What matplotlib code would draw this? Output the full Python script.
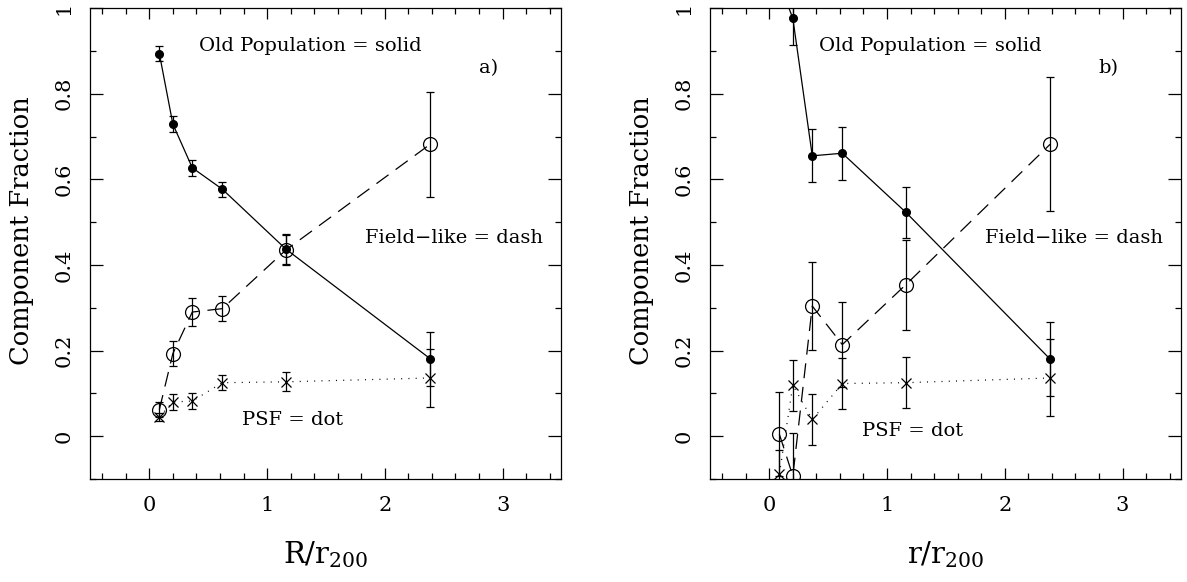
import matplotlib
matplotlib.use("Agg")
import matplotlib.pyplot as plt
from matplotlib.ticker import MultipleLocator

plt.rcParams['font.family'] = ['DejaVu Serif']

# radial bins (R/r200)
r_bins = [0.085, 0.2, 0.365, 0.62, 1.16, 2.385]

# panel a)
old_a = [0.894, 0.729, 0.627, 0.577, 0.437, 0.181]
old_a_err = [0.017, 0.018, 0.018, 0.018, 0.035, 0.063]
field_a = [0.062, 0.193, 0.290, 0.298, 0.435, 0.682]
field_a_err = [0.018, 0.030, 0.032, 0.030, 0.035, 0.123]
psf_a = [0.045, 0.080, 0.082, 0.125, 0.127, 0.136]
psf_a_err = [0.010, 0.018, 0.018, 0.018, 0.022, 0.068]

# panel b)  (first old-population point lies above the plot)
old_b = [1.06, 0.976, 0.655, 0.661, 0.523, 0.180]
old_b_err = [0.04, 0.062, 0.062, 0.062, 0.060, 0.087]
field_b = [0.005, -0.093, 0.304, 0.214, 0.354, 0.682]
field_b_err = [0.099, 0.100, 0.103, 0.100, 0.105, 0.157]
psf_b = [-0.089, 0.119, 0.039, 0.123, 0.125, 0.136]
psf_b_err = [0.056, 0.059, 0.060, 0.060, 0.060, 0.090]

fig = plt.figure(figsize=(11.87, 5.82), dpi=100)
ax1 = fig.add_axes([0.0762, 0.177, 0.3968, 0.809])
ax2 = fig.add_axes([0.5985, 0.177, 0.3968, 0.809])


def panel(ax, old, old_err, field, field_err, psf, psf_err, tag, xlabel, psf_y):
    eb = dict(fmt='none', ecolor='k', elinewidth=0.9, capsize=2.6, capthick=0.9)
    ax.errorbar(r_bins, old, yerr=old_err, **eb)
    ax.errorbar(r_bins, field, yerr=field_err, **eb)
    ax.errorbar(r_bins, psf, yerr=psf_err, **eb)

    ax.plot(r_bins, old, color='k', lw=0.9, ls='-', marker='o', ms=5.5,
            mfc='k', mec='k')
    ax.plot(r_bins, field, color='k', lw=0.9, dashes=(12, 7), marker='o',
            ms=10, mfc='none', mec='k', mew=0.9)
    ax.plot(r_bins, psf, color='k', lw=0.9, dashes=(0.8, 5), marker='x',
            ms=7, mec='k', mew=0.9)

    ax.set_xlim(-0.5, 3.5)
    ax.set_ylim(-0.1, 1.0)
    ax.xaxis.set_major_locator(MultipleLocator(1))
    ax.xaxis.set_minor_locator(MultipleLocator(0.2))
    ax.yaxis.set_minor_locator(MultipleLocator(0.1))
    ax.set_yticks([0, 0.2, 0.4, 0.6, 0.8, 1.0])
    ax.set_yticklabels(['0', '0.2', '0.4', '0.6', '0.8', '1'], rotation=90,
                       va='center')
    ax.tick_params(which='both', direction='in', top=True, right=True,
                   width=0.9, labelsize=15)
    ax.tick_params(axis='x', which='major', length=8, pad=12)
    ax.tick_params(axis='y', which='major', length=9.5, pad=12)
    ax.tick_params(which='minor', length=4.5)
    for s in ax.spines.values():
        s.set_linewidth(0.9)

    ax.set_ylabel('Component Fraction', fontsize=18.5)
    ax.yaxis.set_label_coords(-0.12, 0.527)
    ax.set_xlabel(xlabel, fontsize=21, labelpad=18)

    ax.text(1.37, 0.912, 'Old Population = solid', fontsize=14,
            ha='center', va='center')
    ax.text(2.88, 0.861, tag, fontsize=14, ha='center', va='center')
    ax.text(2.59, 0.463, 'Field\u2212like = dash', fontsize=14,
            ha='center', va='center')
    ax.text(1.22, psf_y, 'PSF = dot', fontsize=14, ha='center', va='center')


panel(ax1, old_a, old_a_err, field_a, field_a_err, psf_a, psf_a_err,
      'a)', r'$\mathregular{R/r_{200}}$', 0.037)
panel(ax2, old_b, old_b_err, field_b, field_b_err, psf_b, psf_b_err,
      'b)', r'$\mathregular{r/r_{200}}$', 0.012)

fig.savefig('out.png', dpi=100)
